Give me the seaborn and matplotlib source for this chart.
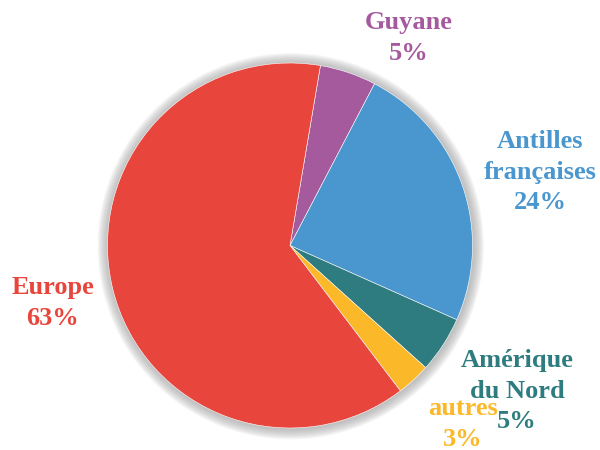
import matplotlib
matplotlib.use("Agg")
import matplotlib.pyplot as plt
from matplotlib.patches import Circle
import seaborn as sns

# Share of visitors by origin
regions = ["Guyane", "Antilles\nfrançaises", "Amérique\ndu Nord", "autres", "Europe"]
shares = [5, 24, 5, 3, 63]
colors = ["#A55A9E", "#4A96CE", "#2E7C80", "#FBB829", "#E8453C"]

# Label anchor points, in pixels from the top-left corner of the figure
label_px = [(409, 38), (540, 172), (517, 391), (463, 424), (53, 303)]

sns.set_theme(style="white")
plt.rcParams["font.family"] = ["Liberation Serif", "DejaVu Serif"]

W, H = 600, 450
cx, cy, r = 290, 245.5, 182.5

fig = plt.figure(figsize=(W / 100, H / 100), dpi=100)
ax = fig.add_axes([0, 0, 1, 1])

# Soft grey halo around the pie
for k in range(14):
    rad = 1.0 + 0.0042 * (k + 1)
    ax.add_patch(Circle((0.004, -0.004), rad, facecolor="#a0a0a0",
                        edgecolor="none", alpha=0.065, zorder=0))

ax.pie(shares, colors=colors, startangle=80.4, counterclock=False,
       radius=1.0, center=(0, 0),
       wedgeprops=dict(edgecolor="white", linewidth=0.4), frame=True)
ax.set_xlim(-cx / r, (W - cx) / r)
ax.set_ylim((cy - H) / r, cy / r)
ax.set_aspect("auto")
ax.axis("off")

for name, val, col, (px, py) in zip(regions, shares, colors, label_px):
    ax.text((px - cx) / r, (cy - py) / r, f"{name}\n{val}%",
            ha="center", va="center", color=col, fontsize=19,
            fontweight="bold", linespacing=1.42, zorder=5)

fig.savefig("out.png", dpi=100)
